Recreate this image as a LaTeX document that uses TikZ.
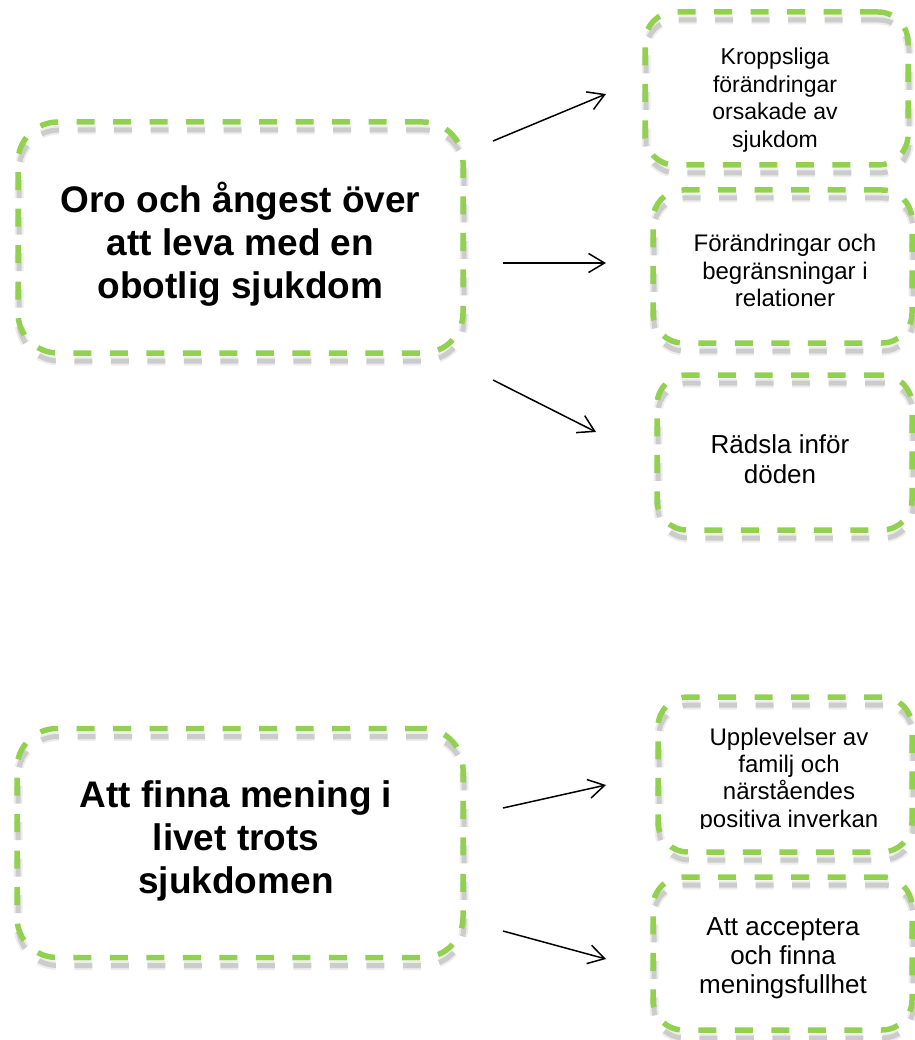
\documentclass[tikz,border=0pt]{standalone}
\usepackage{fontspec}
\setmainfont{Liberation Sans}
\usetikzlibrary{arrows.meta,shadows}

\definecolor{dashgreen}{RGB}{146,208,80}

\tikzset{
  boxshadow/.style={general shadow={draw=black, opacity=#1, line width=9pt,
      dash pattern=on 18pt off 18.5pt, shadow xshift=1pt, shadow yshift=-8pt}},
  dashbox/.style={rectangle, rounded corners=#1, inner sep=0pt,
    draw=dashgreen, line width=5.5pt, dash pattern=on 18pt off 18.5pt,
    boxshadow=.07,
    general shadow={draw=black, opacity=.14, line width=5pt,
      dash pattern=on 18pt off 18.5pt, shadow xshift=1pt, shadow yshift=-8pt}},
  dashbox/.default=30pt,
  bigtext/.style={align=center, font=\bfseries\fontsize{37}{43}\selectfont},
  smalltext/.style 2 args={align=center, font=\fontsize{#1}{#2}\selectfont},
  arr/.style={-{Straight Barb[length=16pt,width=19pt]}, line width=1.5pt}
}

\begin{document}
\begin{tikzpicture}[x=1pt,y=-1pt]
\useasboundingbox (0,0) rectangle (914,1040);

%% boxes
\node[dashbox=40pt, minimum width=445pt, minimum height=231pt] (oro) at (240.5,237.5) {};     %% oro
\node[dashbox=40pt, minimum width=446pt, minimum height=229pt] (mening) at (240,843) {};      %% mening
\node[dashbox, minimum width=263pt, minimum height=153pt] (kropp) at (776.5,88.5) {};          %% kropp
\node[dashbox, minimum width=259pt, minimum height=153pt] (relation) at (782.5,266.5) {};      %% relation
\node[dashbox, minimum width=255pt, minimum height=155pt] (rädsla) at (784.5,452.5) {};        %% radsla
\node[dashbox, minimum width=254pt, minimum height=155pt] (familj) at (785,774.5) {};          %% familj
\node[dashbox, minimum width=259pt, minimum height=153pt] (accept) at (782.5,953.5) {};        %% accept

%% texts
\node[bigtext] (oro-txt) at (240.5,244) {Oro och ångest över\\att leva med en\\obotlig sjukdom};
\node[bigtext] (mening-txt) at (236,841) {Att finna mening i\\livet trots\\sjukdomen};
\node[smalltext={23}{27.7}] (kropp-txt) at (775,100) {Kroppsliga\\förändringar\\orsakade av\\sjukdom};
\node[smalltext={24}{27.5}] (relation-txt) at (785,270.5) {Förändringar och\\begränsningar i\\relationer};
\node[smalltext={26}{30}] (rädsla-txt) at (780,459) {Rädsla inför\\döden};
\begin{scope}
\clip (650,690) rectangle (914,828);
\node[smalltext={24}{27.3}] (familj-txt) at (789,780) {Upplevelser av\\familj och\\närståendes\\positiva inverkan};
\end{scope}
\node[smalltext={26}{29}] (accept-txt) at (783,958) {Att acceptera\\och finna\\meningsfullhet};

%% arrow ends
\coordinate (o1) at (493,141);  \coordinate (k1) at (606,94);    %% oro -> kropp
\coordinate (o2) at (503,263);  \coordinate (r1) at (606,263);   %% oro -> relation
\coordinate (o3) at (493,380);  \coordinate (d1) at (596,432);   %% oro -> radsla
\coordinate (m1) at (503,808);  \coordinate (f1) at (606,785);   %% mening -> familj
\coordinate (m2) at (503,931);  \coordinate (a1) at (606,959);   %% mening -> accept

%% arrows
\draw[arr] (o1) -- (k1);
\draw[arr] (o2) -- (r1);
\draw[arr] (o3) -- (d1);
\draw[arr] (m1) -- (f1);
\draw[arr] (m2) -- (a1);
\end{tikzpicture}
\end{document}
